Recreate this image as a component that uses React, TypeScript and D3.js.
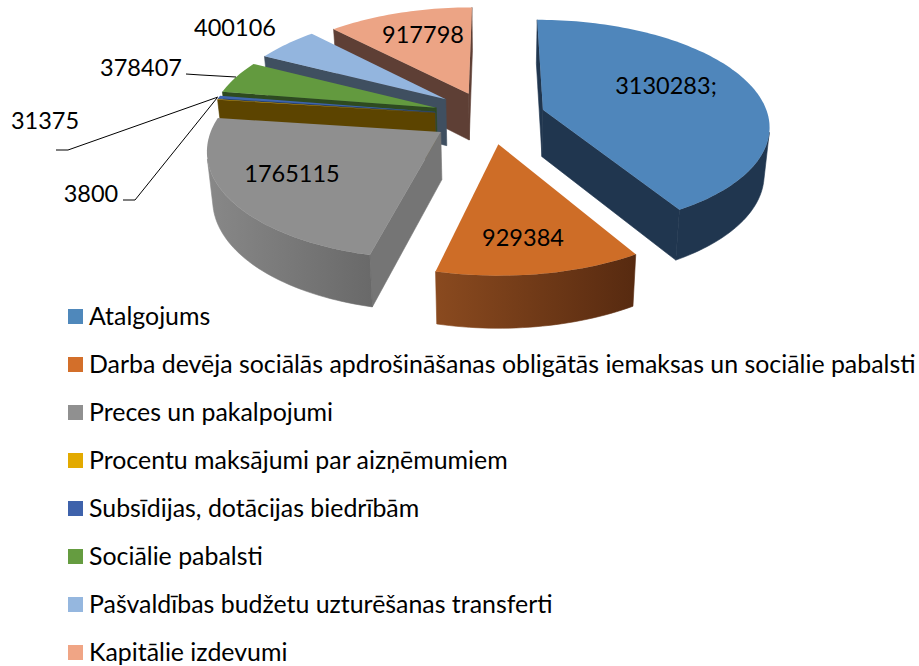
import React from 'react';
import * as d3 from 'd3';

// budget breakdown, 3D exploded pie
const categories = [
  'Atalgojums',
  'Darba devēja sociālās apdrošināšanas obligātās iemaksas un sociālie pabalsti',
  'Preces un pakalpojumi',
  'Procentu maksājumi par aizņēmumiem',
  'Subsīdijas, dotācijas biedrībām',
  'Sociālie pabalsti',
  'Pašvaldības budžetu uzturēšanas transferti',
  'Kapitālie izdevumi',
];
const values = [3130283, 929384, 1765115, 3800, 31375, 378407, 400106, 917798];
const valueLabels = ['3130283;', '929384', '1765115', '3800', '31375', '378407', '400106', '917798'];

const topColors = ['#4f86bb', '#ce6d27', '#8f8f8f', '#e3aa00', '#3e64ad', '#639a3f', '#93b5de', '#eca485'];
const legendColors = ['#4f88bb', '#d36f2a', '#909090', '#e3aa00', '#3e62ab', '#659c40', '#95b7df', '#f0a585'];
const sideColors = ['#20364f', '#5a2b10', '#757575', '#5c4400', '#2a4373', '#2e4a20', '#3f4f60', '#5e3f35'];
const wallLeft = ['#20364f', '#8a4a1f', '#888888', '#5c4400', '#2a4373', '#2e4a20', '#3f4f60', '#5e3f35'];
const wallRight = ['#20364f', '#572a10', '#696969', '#5c4400', '#2a4373', '#2e4a20', '#3f4f60', '#5e3f35'];

// how far each slice is pulled out of the pie, in radius units
const explode = [[0.21, 0.05], [0.01, -0.27], [-0.24, -0.16], [-0.272, 0.02], [-0.272, 0.03], [-0.268, 0.07], [-0.228, 0.155], [-0.125, 0.21]];
const paintOrder = [7, 6, 5, 4, 3, 2, 0, 1];

const cx = 496;
const cy = 115;
const rx = 225;
const ry = 104;
const persp = 0.14;
const depth = 47;

type Pt = [number, number];

const project = (x: number, y: number, bottom: boolean): Pt => {
  const s = 1 / (1 + persp * y);
  if (!bottom) return [cx + rx * x * s, cy - ry * y * s];
  return [cx + 0.98 * rx * x * s, cy + depth - 1.035 * ry * y * s];
};

const facing = (p: Pt, q: Pt, qb: Pt, pb: Pt) => {
  return d3.polygonArea([p, q, qb, pb]) > 0;
};

const line = d3.line<Pt>();
const closed = (pts: Pt[]) => line(pts) + 'Z';

const slices = d3.pie<number>().sort(null).value((d) => d)(values).map((d, i) => {
  const [ex, ey] = explode[i];
  const n = Math.max(2, Math.ceil((d.endAngle - d.startAngle) * 40));
  const angles = d3.range(n + 1).map((k) => d.startAngle + ((d.endAngle - d.startAngle) * k) / n);
  const arcAt = (a: number, b: boolean) => project(ex + Math.sin(a), ey + Math.cos(a), b);
  const top = angles.map((a) => arcAt(a, false));
  const bot = angles.map((a) => arcAt(a, true));
  const apex = project(ex, ey, false);
  const apexB = project(ex, ey, true);

  const keep = d3.range(n).filter((k) => facing(top[k], top[k + 1], bot[k + 1], bot[k]));
  let outer: string | null = null;
  if (keep.length) {
    const a = keep[0];
    const b = keep[keep.length - 1] + 1;
    outer = closed([...top.slice(a, b + 1), ...bot.slice(a, b + 1).reverse()]);
  }
  const radial: string[] = [];
  if (facing(apex, top[0], bot[0], apexB)) radial.push(closed([apex, top[0], bot[0], apexB]));
  if (facing(top[n], apex, apexB, bot[n])) radial.push(closed([top[n], apex, apexB, bot[n]]));

  return { i, top: closed([apex, ...top]), outer, radial };
});

const font = 'Lato, "Open Sans", sans-serif';
const labelPos: Pt[] = [[666, 85], [523, 237], [292, 173], [91, 193], [45, 120], [141, 67], [235, 27], [423, 34]];
const leaders: Pt[][] = [
  [[186, 74], [201, 75], [236, 77]],
  [[56, 150], [68, 150], [218, 97]],
  [[123, 200], [135, 200], [217, 98]],
];

export default function App() {
  return (
    <svg
      width={919}
      height={666}
      style={{ position: 'absolute', left: 0, top: 0, background: '#fff' }}
    >
      <defs>
        {slices.map((s) => (
          <linearGradient key={s.i} id={`wall${s.i}`} x1="0" x2="1" y1="0" y2="0">
            <stop offset="0" stopColor={wallLeft[s.i]} />
            <stop offset="1" stopColor={wallRight[s.i]} />
          </linearGradient>
        ))}
      </defs>
      {paintOrder.map((idx) => {
        const s = slices[idx];
        return (
          <g key={idx}>
            {s.radial.map((d, k) => (
              <path key={k} d={d} fill={sideColors[idx]} stroke={sideColors[idx]} strokeWidth={0.6} />
            ))}
            {s.outer && <path d={s.outer} fill={`url(#wall${idx})`} stroke={`url(#wall${idx})`} strokeWidth={0.6} />}
            <path d={s.top} fill={topColors[idx]} />
          </g>
        );
      })}
      {leaders.map((pts, i) => (
        <path key={i} d={line(pts) as string} fill="none" stroke="#000" strokeWidth={1} />
      ))}
      {valueLabels.map((t, i) => (
        <text
          key={i}
          x={labelPos[i][0]}
          y={labelPos[i][1]}
          textAnchor="middle"
          dominantBaseline="central"
          fontFamily={font}
          fontSize={23.5}
          fill="#000"
        >
          {t}
        </text>
      ))}
      {categories.map((c, i) => (
        <g key={c} transform={`translate(0,${316.5 + i * 48})`}>
          <rect x={68} y={-7.5} width={15} height={15} fill={legendColors[i]} />
          <text x={89} y={-1.5} dominantBaseline="central" fontFamily={font} fontSize={24.9} fill="#000">
            {c}
          </text>
        </g>
      ))}
    </svg>
  );
}
